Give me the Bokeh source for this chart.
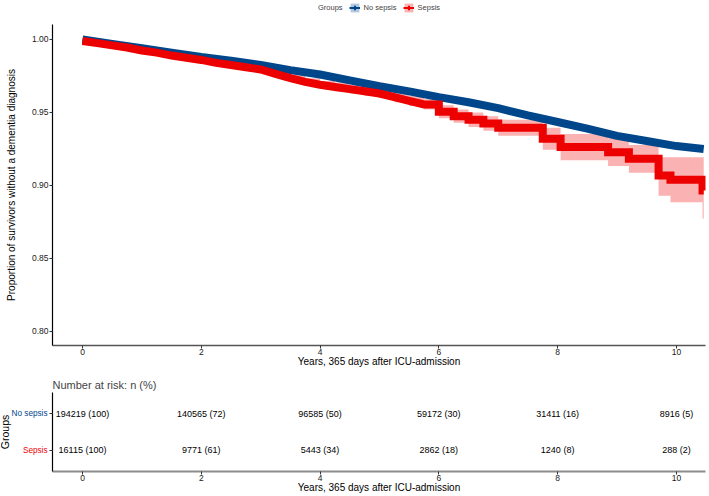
from bokeh.plotting import figure
from bokeh.layouts import column, row
from bokeh.models import (Range1d, FixedTicker, PrintfTickFormatter, Legend,
                          LegendItem, CustomJSTickFormatter)
from bokeh.core.properties import value
from bokeh.embed import file_html
from bokeh.resources import INLINE
import math

FONT = "Liberation Sans"
BLUE = "#00468B"
RED = "#ED0000"

# ---------------- data ----------------
groups = ["No sepsis", "Sepsis"]

# No sepsis survival curve (years, proportion)
nosepsis_time = [0, 0.5, 1, 1.5, 2, 2.5, 3, 3.5, 4, 4.5, 5, 5.5, 6, 6.5, 7,
                 7.5, 8, 8.5, 9, 9.5, 10, 10.46]
nosepsis_surv = [1.000, 0.997, 0.994, 0.991, 0.988, 0.9855, 0.9825, 0.979,
                 0.976, 0.972, 0.968, 0.9645, 0.9605, 0.957, 0.953, 0.948,
                 0.9435, 0.939, 0.934, 0.9305, 0.927, 0.925]

# Sepsis survival curve with confidence band
sepsis_time = [0, 0.25, 0.5, 0.75, 1.0, 1.25, 1.5, 1.75, 2.0, 2.25, 2.5, 2.75,
               3.0, 3.25, 3.5, 3.75, 4.0, 4.25, 4.5, 4.75, 5.0, 5.25, 5.5,
               5.75, 6.0, 6.25, 6.5, 6.75, 7.0, 7.75, 8.05, 8.85, 9.2, 9.7,
               9.9, 10.44, 10.46]
sepsis_surv = [0.999, 0.9975, 0.996, 0.9945, 0.9925, 0.991, 0.989, 0.9875,
               0.986, 0.984, 0.9825, 0.981, 0.9795, 0.9765, 0.9735, 0.971,
               0.969, 0.9675, 0.966, 0.9645, 0.963, 0.9605, 0.958, 0.9555,
               0.9505, 0.9475, 0.945, 0.9425, 0.9395, 0.932, 0.9263, 0.9228,
               0.9183, 0.9068, 0.9039, 0.8966, 0.8966]
sepsis_upper = [1.001, 0.9995, 0.998, 0.9965, 0.9945, 0.993, 0.991, 0.9895,
                0.988, 0.9865, 0.985, 0.9835, 0.982, 0.979, 0.976, 0.9735,
                0.9715, 0.9705, 0.969, 0.9675, 0.966, 0.964, 0.9615, 0.959,
                0.955, 0.952, 0.950, 0.9475, 0.945, 0.9395, 0.9353, 0.9323,
                0.9278, 0.9194, 0.9194, 0.9194, 0.9194]
sepsis_lower = [0.997, 0.9955, 0.994, 0.9925, 0.9905, 0.989, 0.987, 0.9855,
                0.984, 0.9815, 0.980, 0.9785, 0.977, 0.974, 0.971, 0.9685,
                0.9665, 0.9645, 0.963, 0.9615, 0.960, 0.957, 0.9545, 0.952,
                0.946, 0.943, 0.940, 0.9375, 0.934, 0.9245, 0.9173, 0.9133,
                0.9088, 0.893, 0.8886, 0.8774, 0.8774]
SMOOTH_UNTIL = 6.0   # before this time the many small steps read as a line

# risk table
risk_times = [0, 2, 4, 6, 8, 10]
risk_nosepsis = ["194219 (100)", "140565 (72)", "96585 (50)", "59172 (30)",
                 "31411 (16)", "8916 (5)"]
risk_sepsis = ["16115 (100)", "9771 (61)", "5443 (34)", "2862 (18)",
               "1240 (8)", "288 (2)"]

x_ticks = [0, 2, 4, 6, 8, 10]
y_ticks = [0.80, 0.85, 0.90, 0.95, 1.00]
row_pos = {"No sepsis": 1.5, "Sepsis": 0.5}

W = 707
LEFT = 52
RIGHT = 2
XR = Range1d(-0.505, 10.49)


def style_axis(ax, line_color="#000000", line_width=1.2):
    ax.axis_line_color = line_color
    ax.axis_line_width = line_width
    ax.major_tick_line_color = "#333333"
    ax.major_tick_out = 3
    ax.major_tick_in = 0
    ax.minor_tick_line_color = None
    ax.major_label_text_font = FONT
    ax.major_label_text_font_size = "8.5px"
    ax.major_label_text_color = "#1a1a1a"
    ax.major_label_standoff = 1
    ax.axis_label_text_font = FONT
    ax.axis_label_text_font_size = "10px"
    ax.axis_label_text_font_style = "normal"
    ax.axis_label_text_color = "#000000"


def bare(fig):
    fig.xgrid.visible = False
    fig.ygrid.visible = False
    fig.outline_line_color = None


# ---------------- legend strip ----------------
lg = figure(width=W, height=24, x_range=Range1d(0, 1), y_range=Range1d(0, 1),
            output_backend="svg", toolbar_location=None,
            x_axis_location=None, y_axis_location=None,
            min_border_left=LEFT, min_border_right=RIGHT, min_border_top=0,
            min_border_bottom=0)
bare(lg)
off = dict(x=[-10], y=[-10])
area_off = dict(x=[-10, -9], y1=[-10, -10], y2=[-9, -9])
r_dummy = lg.scatter(size=1, fill_alpha=0, line_alpha=0, **off)
b_box = lg.varea(fill_color=BLUE, fill_alpha=0.3, **area_off)
b_line = lg.line(line_color=BLUE, line_width=2, **off)
b_cross = lg.scatter(marker="cross", size=11, line_color=BLUE,
                     line_width=2, **off)
r_box = lg.varea(fill_color=RED, fill_alpha=0.3, **area_off)
r_line = lg.line(line_color=RED, line_width=2, **off)
r_cross = lg.scatter(marker="cross", size=11, line_color=RED,
                     line_width=2, **off)
legend = Legend(items=[
    LegendItem(label="Groups", renderers=[r_dummy]),
    LegendItem(label=groups[0], renderers=[b_box, b_line, b_cross]),
    LegendItem(label=groups[1], renderers=[r_box, r_line, r_cross]),
], orientation="horizontal", location=(251, 11), glyph_width=11,
    glyph_height=11, label_height=11, label_standoff=4, spacing=6,
    padding=0, margin=0, border_line_color=None, background_fill_alpha=0,
    label_text_font=FONT, label_text_font_size="7.5px")
lg.add_layout(legend)

# ---------------- main KM plot ----------------
p = figure(width=W, height=346, x_range=XR, y_range=Range1d(0.79041, 1.01027),
           output_backend="svg", toolbar_location=None,
           min_border_left=LEFT, min_border_right=RIGHT, min_border_top=0,
           min_border_bottom=25)
bare(p)

p.varea_step(x=sepsis_time, y1=sepsis_lower, y2=sepsis_upper,
             step_mode="after", fill_color=RED, fill_alpha=0.3)
p.line(nosepsis_time, nosepsis_surv, line_width=8, line_color=BLUE)

# sepsis curve: smooth early part, explicit steps afterwards
px, py = [], []
for i, (tt, ss) in enumerate(zip(sepsis_time, sepsis_surv)):
    if tt < SMOOTH_UNTIL or i == 0:
        px.append(tt)
        py.append(ss)
    else:
        px.append(tt)
        py.append(py[-1])
        px.append(tt)
        py.append(ss)
p.line(px, py, line_width=8, line_color=RED, line_join="miter")

style_axis(p.yaxis[0], "#000000", 1.2)
style_axis(p.xaxis[0], "#555555", 1.5)
p.yaxis.ticker = FixedTicker(ticks=y_ticks)
p.yaxis.formatter = PrintfTickFormatter(format="%.2f")
p.yaxis.axis_label = "Proportion of survivors without a dementia diagnosis"
p.yaxis.axis_label_standoff = 12
p.xaxis.ticker = FixedTicker(ticks=x_ticks)
p.xaxis.axis_label = "Years, 365 days after ICU-admission"
p.xaxis.major_label_standoff = 0
p.xaxis.axis_label_standoff = -2

# ---------------- risk table ----------------
YR = Range1d(-0.068, 2.068)
GLW = 48
TOP, BOT, TH = 22, 25, 126
t = figure(width=W - GLW, height=TH, x_range=XR, y_range=YR,
           output_backend="svg", toolbar_location=None,
           min_border_left=LEFT - GLW, min_border_right=RIGHT,
           min_border_top=TOP, min_border_bottom=BOT,
           title="Number at risk: n (%)")
bare(t)
t.title.text_font = FONT
t.title.text_font_size = "11px"
t.title.text_font_style = "normal"
t.title.align = "left"
t.title.standoff = 4

t.text(x=risk_times, y=[row_pos["No sepsis"]] * len(risk_times),
       text=risk_nosepsis, text_align="center", text_baseline="middle",
       text_font=value(FONT), text_font_size="9px", text_color="#000000")
t.text(x=risk_times, y=[row_pos["Sepsis"]] * len(risk_times),
       text=risk_sepsis, text_align="center", text_baseline="middle",
       text_font=value(FONT), text_font_size="9px", text_color="#000000")

style_axis(t.yaxis[0], "#000000", 1.2)
style_axis(t.xaxis[0], "#8c8c8c", 2)
t.yaxis.ticker = FixedTicker(ticks=[0.5, 1.5])
t.yaxis.formatter = CustomJSTickFormatter(code="return ''")
t.yaxis.major_label_standoff = 0
t.xaxis.ticker = FixedTicker(ticks=x_ticks)
t.xaxis.axis_label = "Years, 365 days after ICU-admission"
t.xaxis.major_label_standoff = 0
t.xaxis.axis_label_standoff = -2

# group labels strip, left of the risk table
gl = figure(width=GLW, height=TH, x_range=Range1d(0, 1), y_range=YR,
            output_backend="svg", toolbar_location=None,
            x_axis_location=None, y_axis_location=None,
            min_border_left=0, min_border_right=0, min_border_top=TOP,
            min_border_bottom=BOT)
bare(gl)
gl.text(x=[1], y=[row_pos["No sepsis"]], text=[groups[0]], x_offset=-1,
        text_align="right", text_baseline="middle", text_font=value(FONT),
        text_font_size="8.2px", text_color=BLUE)
gl.text(x=[1], y=[row_pos["Sepsis"]], text=[groups[1]], x_offset=-1,
        text_align="right", text_baseline="middle", text_font=value(FONT),
        text_font_size="8.2px", text_color=RED)
gl.text(x=[0], y=[1.0], text=["Groups"], x_offset=4, angle=math.pi / 2,
        text_align="center", text_baseline="middle", text_font=value(FONT),
        text_font_size="10.5px", text_color="#000000")

layout = column(lg, p, row(gl, t))
open("out.html", "w").write(file_html(layout, INLINE))
